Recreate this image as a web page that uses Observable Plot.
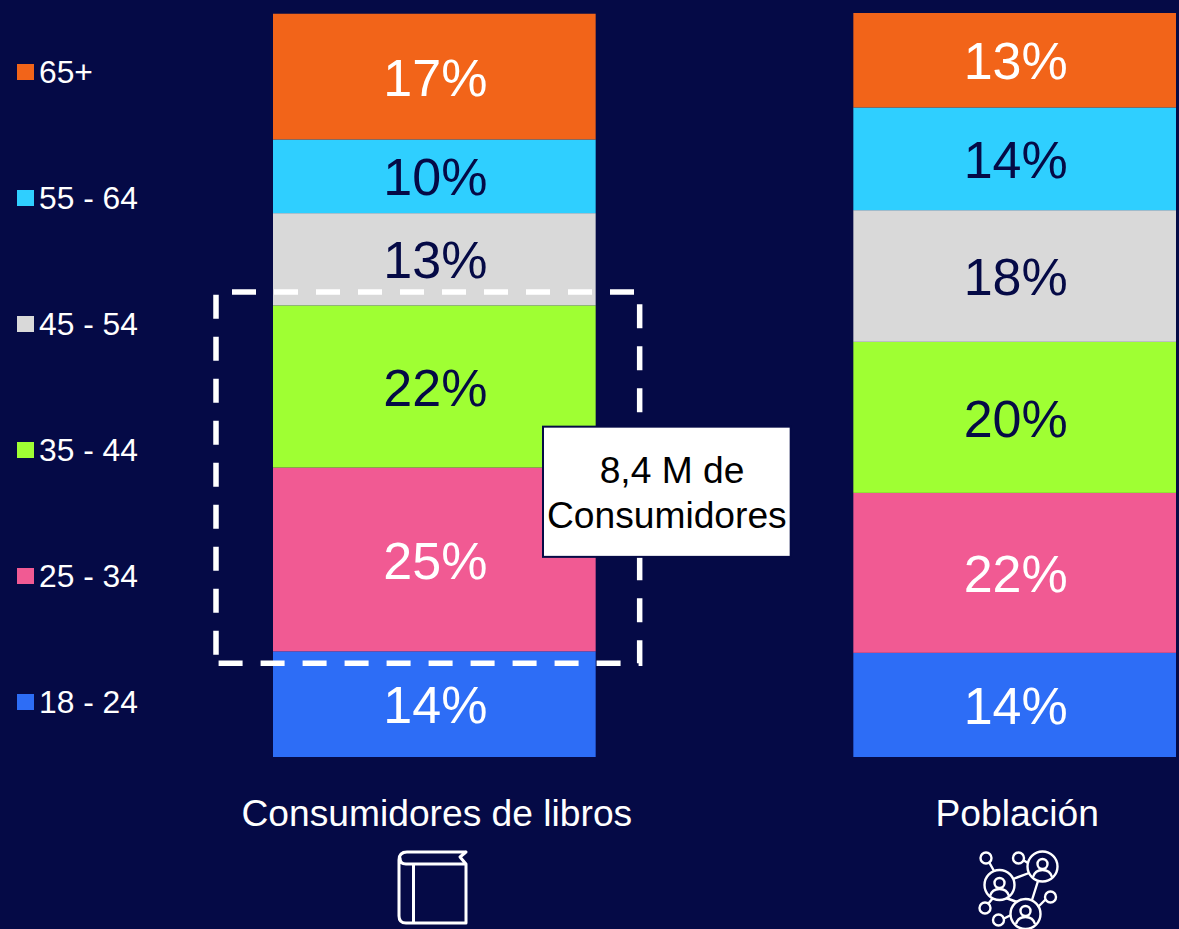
<!DOCTYPE html>
<html lang="es">
<head>
<meta charset="utf-8">
<script src="https://cdn.jsdelivr.net/npm/d3@7"></script>
<script src="https://cdn.jsdelivr.net/npm/@observablehq/plot@0.6"></script>
<style>
html,body{margin:0;padding:0;background:#050A46;}
#wrap{position:relative;width:1179px;height:929px;overflow:hidden;font-family:"Liberation Sans",Arial,sans-serif;}
#wrap>svg.chart{position:absolute;left:0;top:0;}
.legend{position:absolute;left:17px;top:9px;color:#fff;font-size:31.800px;line-height:126px;}
.legend div{height:126px;display:flex;align-items:center;white-space:pre;}
.legend i{display:inline-block;width:16.500px;height:16.500px;margin-right:5.500px;position:relative;top:0;}
.icon{position:absolute;left:0;top:0;fill:none;stroke:#fff;}
</style>
</head>
<body>
<div id="wrap"></div>
<script>
const groups = ["Consumidores de libros", "Población"];
const ages = ["18 - 24", "25 - 34", "35 - 44", "45 - 54", "55 - 64", "65+"];
const colors = ["#2D6DF6", "#F15A93", "#9FFF33", "#D9D9D9", "#2FCFFF", "#F26419"];
const bookShares = [14.2, 24.7, 21.8, 12.4, 9.9, 16.9];
const popShares = [14.0, 21.5, 20.3, 17.7, 13.8, 12.7];
const bookLabels = ["14%", "25%", "22%", "13%", "10%", "17%"];
const popLabels = ["14%", "22%", "20%", "18%", "14%", "13%"];
const bookInk = ["light", "light", "dark", "dark", "dark", "light"];
const popInk = ["light", "light", "dark", "dark", "dark", "light"];
const highlight = [{group: groups[0], low: 12.6, high: 62.5}];
const callout = [{group: groups[0], low: 26.9, high: 44.4, mid: 35.9, text: "\u00a08,4 M de\nConsumidores"}];

const navy = "#050A46";
const rows = [
  ...ages.map((age, i) => ({group: groups[0], age, share: bookShares[i], label: bookLabels[i], ink: bookInk[i]})),
  ...ages.map((age, i) => ({group: groups[1], age, share: popShares[i], label: popLabels[i], ink: popInk[i]}))
];
const stackOpts = {x: "group", y: "share", z: "age"};
// Dashes round the box clockwise from its top-left corner; the left side restarts its phase.
const boxDash = [...Array(28).fill("24 18"), "24 11", ...Array(8).fill("24 18"), "24 17"].join(" ");

const chart = Plot.plot({
  width: 1179, height: 929,
  marginLeft: 273, marginRight: 3, marginTop: 13, marginBottom: 172,
  style: {background: navy, fontFamily: '"Liberation Sans",Arial,sans-serif', color: "#fff", overflow: "visible"},
  x: {type: "band", domain: groups, paddingInner: 0.444, paddingOuter: 0, round: false, label: null},
  y: {domain: [0, 100], axis: null},
  color: {domain: [...ages, "light", "dark"], range: [...colors, "#fff", navy]},
  marks: [
    Plot.barY(rows, {...stackOpts, fill: "age"}),
    Plot.text(rows, Plot.stackY({...stackOpts, text: "label", fill: "ink", fontSize: 52, dy: 2, dx: 0.500})),
    Plot.barY(highlight, {x: "group", y1: "low", y2: "high", fill: "none", stroke: "#fff",
      strokeWidth: 5.500, strokeDasharray: boxDash, strokeDashoffset: -16, insetLeft: -57, insetRight: -44}),
    Plot.barY(callout, {x: "group", y1: "low", y2: "high", fill: "#fff", stroke: navy,
      strokeWidth: 2, insetLeft: 270, insetRight: -195}),
    Plot.text(callout, {x: "group", y: "mid", text: "text", fill: "#000", fontSize: 37.200,
      lineHeight: 1.2, dx: 232, dy: 1}),
    Plot.axisX({anchor: "bottom", tickSize: 0, tickPadding: 42, fontSize: 37.200, color: "#fff", label: null, dx: 2})
  ]
});
chart.classList.add("chart");
const wrap = document.getElementById("wrap");
wrap.appendChild(chart);

const legend = document.createElement("div");
legend.className = "legend";
[...ages].reverse().forEach((age, i) => {
  const row = document.createElement("div");
  const swatch = document.createElement("i");
  swatch.style.background = [...colors].reverse()[i];
  row.appendChild(swatch);
  row.appendChild(document.createTextNode(age));
  legend.appendChild(row);
});
wrap.appendChild(legend);

wrap.insertAdjacentHTML("beforeend", `
<svg class="icon" width="1179" height="929" viewBox="0 0 1179 929">
  <g stroke-width="3" stroke-linejoin="round" stroke-linecap="round">
    <path d="M466 852H407Q399 852 399 860V916Q399 923 406 923H466V864L460 857L466 852M466 864H406Q400 864 400 858M413.500 864V923"/>
  </g>
  <g stroke-width="2.400">
    <circle cx="999.500" cy="885" r="15"/><circle cx="1042.500" cy="866.500" r="15"/><circle cx="1025.500" cy="914" r="15"/>
    <circle cx="986" cy="858" r="5.500"/><circle cx="1018.500" cy="858" r="5.500"/><circle cx="1050.500" cy="897" r="5.500"/>
    <circle cx="985" cy="908" r="5.500"/><circle cx="998.500" cy="920" r="5.500"/>
    <path d="M989 862L994 871M1023 860L1028 863M1013 879L1029 873M1038 881L1032 900M1046 899L1038 907M988 904L993 898M1003 919L1011 915M1006 898L1017 902"/>
    <circle cx="999.500" cy="883" r="5"/><path d="M990 896Q992 889 999.500 889Q1007 889 1009 896"/>
    <circle cx="1042.500" cy="864" r="5"/><path d="M1033 877Q1035 870 1042.500 870Q1050 870 1052 877"/>
    <circle cx="1025.500" cy="911" r="5"/><path d="M1016 924Q1018 917 1025.500 917Q1033 917 1035 924"/>
  </g>
</svg>`);
</script>
</body>
</html>
